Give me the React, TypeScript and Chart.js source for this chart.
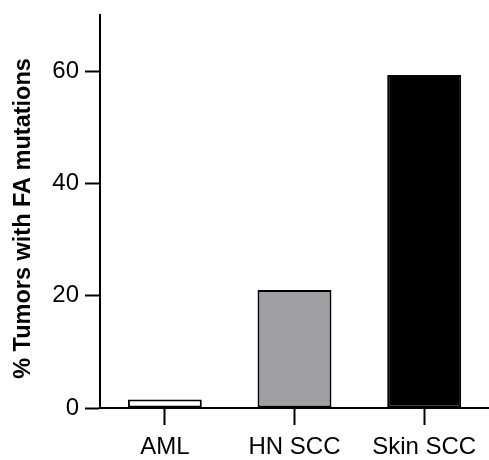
import React, { useEffect, useRef } from "react";
import { Chart, registerables } from "chart.js";

Chart.register(...registerables);

const categories = ["AML", "HN SCC", "Skin SCC"];
const values = [1.5, 21, 59.3];
const fillColors = ["#ffffff", "#a09fa3", "#000000"];
const yTicks = [0, 20, 40, 60];
const yTitle = "% Tumors with FA mutations";

const yTitlePlugin = {
  id: "yTitlePlugin",
  afterDraw(chart: any) {
    const ctx = chart.ctx;
    const area = chart.chartArea;
    ctx.save();
    ctx.fillStyle = "#000";
    ctx.font = "bold 23.5px Arial, 'Liberation Sans'";
    ctx.textAlign = "center";
    ctx.textBaseline = "middle";
    ctx.translate(24, (area.top + area.bottom) / 2 + 7);
    ctx.rotate(-Math.PI / 2);
    ctx.fillText(yTitle, 0, 0);
    ctx.restore();
  },
};

export default function App() {
  const ref = useRef<HTMLCanvasElement | null>(null);
  useEffect(() => {
    document.body.style.margin = "0";
    const ctx = ref.current!;
    const chart = new Chart(ctx, {
      type: "bar",
      data: {
        labels: categories,
        datasets: [
          {
            data: values,
            backgroundColor: fillColors,
            borderColor: "#000000",
            borderWidth: 2,
            borderSkipped: false,
            barPercentage: 0.57,
            categoryPercentage: 1,
          },
        ],
      },
      options: {
        animation: false,
        responsive: true,
        maintainAspectRatio: false,
        layout: { padding: { top: 15, left: 0, right: 0, bottom: 0 } },
        plugins: { legend: { display: false }, tooltip: { enabled: false } },
        scales: {
          x: {
            grid: {
              display: true,
              drawOnChartArea: false,
              tickLength: 17,
              tickColor: "#000",
              tickWidth: 2,
              offset: false,
            },
            border: { display: true, color: "#000", width: 2 },
            ticks: {
              color: "#000",
              font: { family: "Arial, 'Liberation Sans'", size: 24 },
              padding: 8,
              maxRotation: 0,
            },
            afterFit: (s: any) => {
              s.height = 52;
            },
          },
          y: {
            min: 0,
            max: 70,
            grid: {
              display: true,
              drawOnChartArea: false,
              tickLength: 15,
              tickColor: "#000",
              tickWidth: 2,
            },
            border: { display: true, color: "#000", width: 2 },
            ticks: {
              color: "#000",
              font: { family: "Arial, 'Liberation Sans'", size: 24 },
              padding: 6,
            },
            afterBuildTicks: (s: any) => {
              s.ticks = yTicks.map((v) => ({ value: v }));
            },
            title: { display: false },
            afterFit: (s: any) => {
              s.width = 100;
              s.paddingTop = 0;
            },
          },
        },
      },
      plugins: [yTitlePlugin],
    });
    return () => chart.destroy();
  }, []);
  return (
    <div style={{ position: "relative", width: 489, height: 460 }}>
      <canvas ref={ref} />
    </div>
  );
}
